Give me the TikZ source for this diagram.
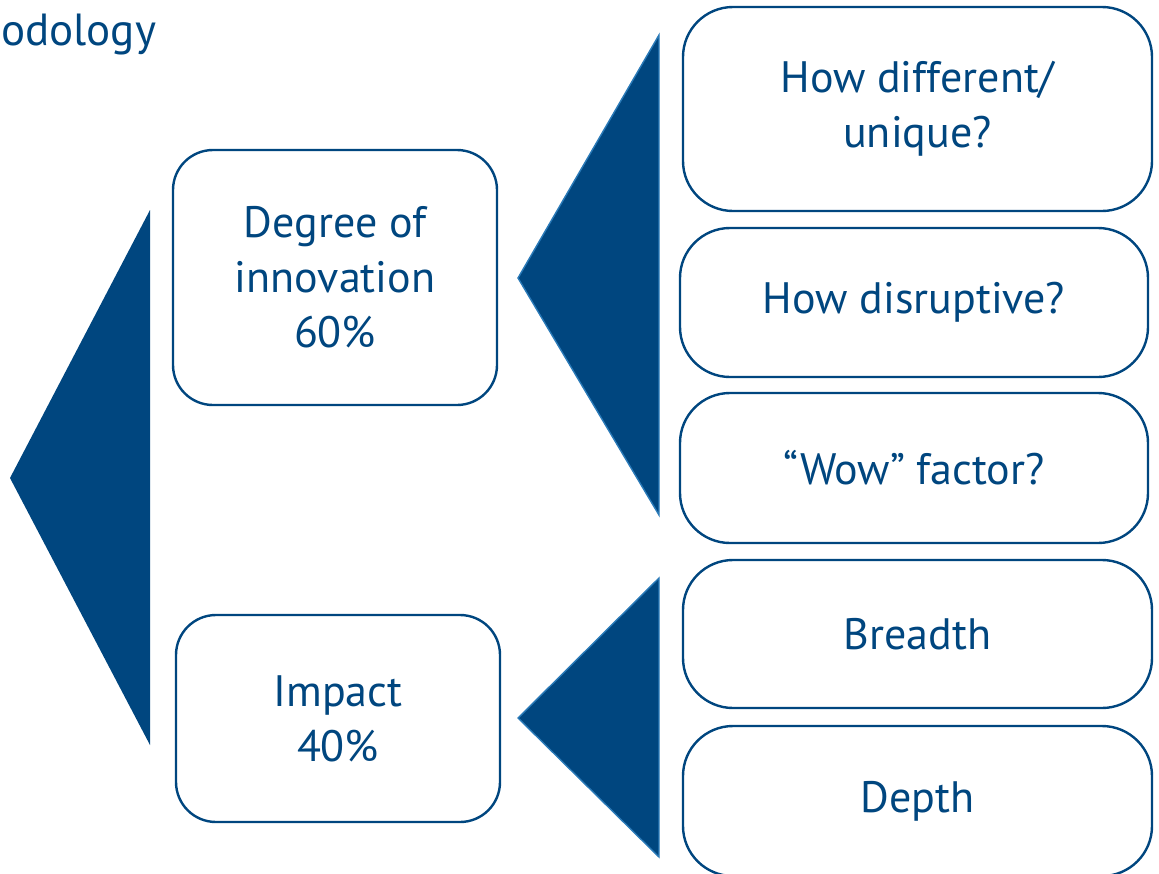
\documentclass[tikz,border=0pt]{standalone}
\usepackage{fontspec}
\setmainfont{PT Sans}
\definecolor{navy}{HTML}{00467F}
\definecolor{edgeblue}{HTML}{2A7AB8}
\begin{document}
\begin{tikzpicture}[x=1pt,y=-1pt,
  box/.style={draw=navy,line width=2.4pt,rounded corners=#1,fill=white,
    text=navy,align=center,font=\fontsize{44}{55}\selectfont,inner sep=0pt},
  box/.default=40pt,
  wedge/.style={fill=navy,draw=edgeblue,line width=1.4pt,line join=miter}]
\useasboundingbox (0,0) rectangle (1159,873);
\node[anchor=base west,text=navy,font=\fontsize{45}{50}\selectfont,inner sep=0pt] (title) at (1,45) {odology};
% main boxes
\node[box,minimum width=324pt,minimum height=255pt] (deg) at (335,277.5) {Degree of\\innovation\\60\%};
\node[box,minimum width=324pt,minimum height=207pt] (imp) at (338,718.5) {Impact\\40\%};
% right boxes
\node[box=50pt,minimum width=469pt,minimum height=204pt] (diff) at (917.5,109) {How different/\\unique?};
\node[box=50pt,minimum width=468pt,minimum height=149pt] (disr) at (914,302.5) {How disruptive?};
\node[box=50pt,minimum width=468pt,minimum height=150pt] (wow) at (914,468) {“Wow” factor?};
\node[box=50pt,minimum width=469pt,minimum height=148pt] (bre) at (917.5,634) {Breadth};
\node[box=50pt,minimum width=469pt,minimum height=150pt] (dep) at (917.5,801) {Depth};
% wedges
\coordinate (w1a) at (10,478);
\coordinate (w1t) at (150,210);
\coordinate (w1b) at (150,745);
\fill[navy] (w1a) -- (w1t) -- (w1b) -- cycle;
\coordinate (w2a) at (518,278);
\coordinate (w2t) at (659,35);
\coordinate (w2b) at (659,515);
\draw[wedge] (w2a) -- (w2t) -- (w2b) -- cycle;
\coordinate (w3a) at (518,718);
\coordinate (w3t) at (659,578);
\coordinate (w3b) at (659,857);
\draw[wedge] (w3a) -- (w3t) -- (w3b) -- cycle;
\end{tikzpicture}
\end{document}
